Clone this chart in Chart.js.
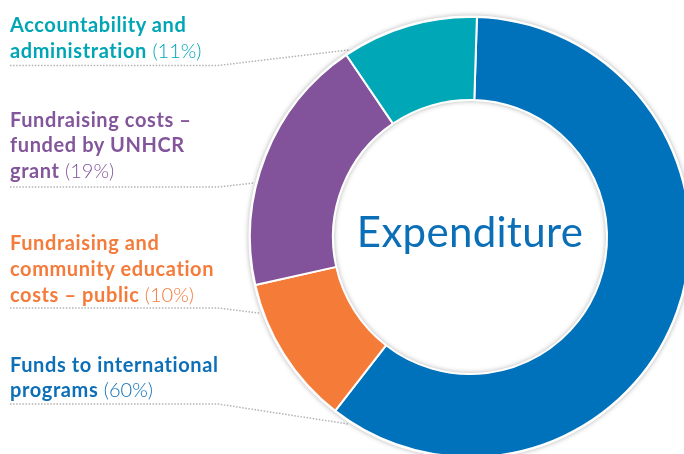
<!DOCTYPE html>
<html lang="en">
<head>
<meta charset="UTF-8">
<title>Expenditure</title>
<script src="https://cdn.jsdelivr.net/npm/chart.js"></script>
<style>
    html, body { margin: 0; padding: 0; width: 684px; height: 454px; overflow: hidden; background: #fff; }
    #wrap { position: relative; width: 684px; height: 454px; overflow: hidden; }
    #chart { position: absolute; left: 0; top: 0; }
    .lbl { position: absolute; left: 10px; font-family: Lato, "Open Sans", sans-serif; font-weight: 700; font-size: 20px; letter-spacing: 0.6px; line-height: 25.7px; white-space: nowrap; }
    .lbl .pct { font-weight: 300; letter-spacing: 0; }
    #centre { position: absolute; left: 270px; width: 400px; top: 209.8px; text-align: center; font-family: Lato, "Open Sans", sans-serif; font-size: 42px; letter-spacing: 0.3px; line-height: 42px; color: #0b6fb8; }
</style>
</head>
<body>
<div id="wrap">
    <canvas id="chart" width="700" height="470"></canvas>
    <div id="labels"></div>
    <div id="centre">Expenditure</div>
</div>
<script>
    // Data (clockwise from the top)
    const categories = ['Funds to international programs', 'Fundraising and community education costs – public', 'Fundraising costs – funded by UNHCR grant', 'Accountability and administration'];
    const shares = [60, 11, 19, 10];          // arc sizes as they appear in the ring
    const shareLabels = ['(60%)', '(10%)', '(19%)', '(11%)'];
    const labelLines = [
        ['Funds to international', 'programs'],
        ['Fundraising and', 'community education', 'costs – public'],
        ['Fundraising costs –', 'funded by UNHCR', 'grant'],
        ['Accountability and', 'administration']
    ];

    // Styling
    const segColours = ['#0071bb', '#f47b38', '#82529a', '#00a7b7'];
    const textColours = ['#0d6fb7', '#f47b3a', '#83559a', '#00a6b6'];
    const labelTops = [351.7, 230.1, 106.7, 12.4];
    const leaderY = [404, 308, 187, 65.5];
    const leaderAngle = [213, 250, 284, 327];

    // Labels
    const labelsDiv = document.getElementById('labels');
    labelLines.forEach((lines, i) => {
        const el = document.createElement('div');
        el.className = 'lbl';
        el.style.top = labelTops[i] + 'px';
        el.style.color = textColours[i];
        el.innerHTML = lines.map((l, j) => j === lines.length - 1 ? l + ' <span class="pct">' + shareLabels[i] + '</span>' : l).join('<br>');
        labelsDiv.appendChild(el);
    });

    // Leader lines and soft ring shadows
    const ringDecor = {
        id: 'ringDecor',
        beforeDatasetsDraw(chart) {
            const arc = chart.getDatasetMeta(0).data[0];
            const { x, y, outerRadius } = arc.getProps(['x', 'y', 'outerRadius'], true);
            const ctx = chart.ctx;
            ctx.save();
            ctx.strokeStyle = '#b3b3b3';
            ctx.lineWidth = 1.5;
            ctx.setLineDash([1.5, 1.6]);
            leaderY.forEach((ly, i) => {
                const a = (leaderAngle[i] - 90) * Math.PI / 180;
                ctx.beginPath();
                ctx.moveTo(10, ly);
                ctx.lineTo(218, ly);
                ctx.lineTo(x + (outerRadius + 3) * Math.cos(a), y + (outerRadius + 3) * Math.sin(a));
                ctx.stroke();
            });
            ctx.restore();

            ctx.save();
            ctx.shadowColor = 'rgba(0,0,0,0.3)';
            ctx.shadowBlur = 5;
            ctx.fillStyle = '#fff';
            ctx.beginPath();
            ctx.arc(x, y, outerRadius + 1.5, 0, Math.PI * 2);
            ctx.fill();
            ctx.restore();
        },
        afterDatasetsDraw(chart) {
            const arc = chart.getDatasetMeta(0).data[0];
            const { x, y, innerRadius } = arc.getProps(['x', 'y', 'innerRadius'], true);
            const ctx = chart.ctx;
            ctx.save();
            ctx.beginPath();
            ctx.arc(x, y, innerRadius - 1, 0, Math.PI * 2);
            ctx.clip();
            ctx.shadowColor = 'rgba(0,0,0,0.3)';
            ctx.shadowBlur = 5;
            ctx.strokeStyle = '#fff';
            ctx.lineWidth = 10;
            ctx.beginPath();
            ctx.arc(x, y, innerRadius + 4, 0, Math.PI * 2);
            ctx.stroke();
            ctx.restore();
        }
    };

    new Chart(document.getElementById('chart'), {
        type: 'doughnut',
        data: {
            labels: categories,
            datasets: [{
                data: shares,
                backgroundColor: segColours,
                borderColor: '#ffffff',
                borderWidth: 2
            }]
        },
        options: {
            responsive: false,
            animation: false,
            devicePixelRatio: 1,
            events: [],
            rotation: 1.8,
            cutout: '62.3%',
            layout: { padding: { left: 249, top: 16, right: 9, bottom: 12 } },
            plugins: { legend: { display: false }, tooltip: { enabled: false } }
        },
        plugins: [ringDecor]
    });
</script>
</body>
</html>
